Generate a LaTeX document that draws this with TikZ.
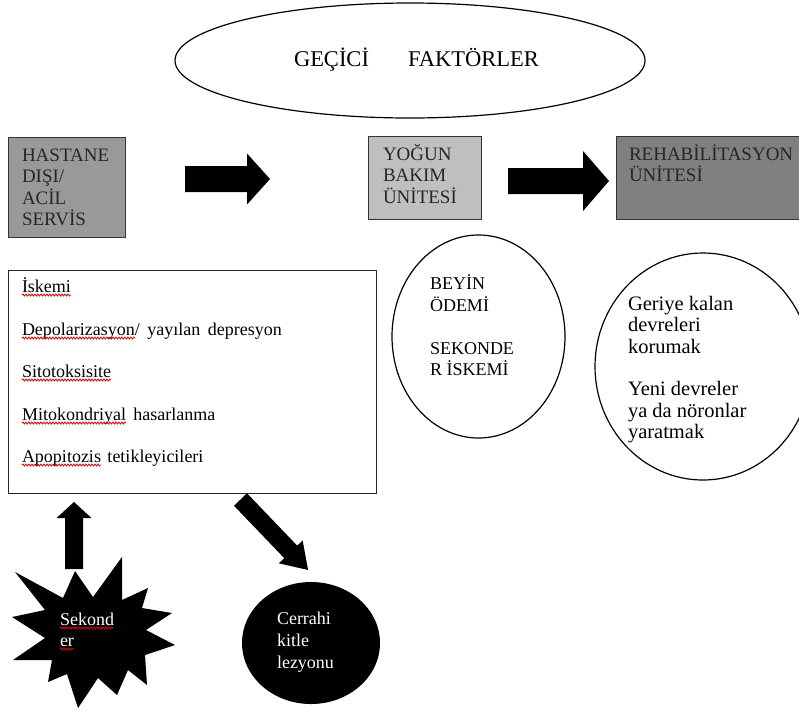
\documentclass[tikz,border=0pt]{standalone}
\usepackage{fontspec}
\setmainfont{Liberation Serif}
\usetikzlibrary{shapes.geometric,decorations.pathmorphing}

\definecolor{hospgray}{gray}{0.60}
\definecolor{icugray}{gray}{0.75}
\definecolor{rehabgray}{gray}{0.50}

% Block arrow: #1 tail coordinate, #2 angle, #3 length, #4 shaft half-width,
% #5 head half-width, #6 head length
\newcommand\blockarrow[6]{%
  \fill[shift={(#1)},rotate=#2] (0,-#4) -- ({#3-#6},-#4) -- ({#3-#6},-#5) -- (#3,0)
    -- ({#3-#6},#5) -- ({#3-#6},#4) -- (0,#4) -- cycle;}

\begin{document}
\begin{tikzpicture}[x=1pt,y=-1pt,
  lbl/.style={anchor=base west, inner sep=0pt, outer sep=0pt, font=\fontsize{18}{21}\selectfont},
  boxlbl/.style={lbl, text=black!85, font=\fontsize{19}{22}\selectfont},
  circlbl/.style={lbl, font=\fontsize{20.5}{24}\selectfont},
  biglbl/.style={lbl, font=\fontsize{22.5}{26}\selectfont},
  wlbl/.style={lbl, text=white},
  stage/.style={rectangle, draw=black!80, line width=1.4pt, anchor=north west, inner sep=0pt},
  oval/.style={ellipse, draw=black, line width=1.2pt, inner sep=0pt},
  squig/.style={draw=red!85!black, line width=0.8pt, decorate,
    decoration={snake, amplitude=1pt, segment length=3pt}}
]
\useasboundingbox (0,0) rectangle (799,713);

% title oval
\node[oval, minimum width=470pt, minimum height=115pt] (gecici) at (410,60.5) {};
\node[biglbl] (g1) at (294,66) {GEÇİCİ};
\node[biglbl] (g2) at (408,66) {FAKTÖRLER};

% care stages
\node[stage, fill=hospgray, minimum width=117pt, minimum height=100pt] (hastane) at (8,137) {};
\node[boxlbl] (h1) at (22,161) {HASTANE};
\node[boxlbl] (h2) at (22,182.5) {DIŞI/};
\node[boxlbl] (h3) at (22,204) {ACİL};
\node[boxlbl] (h4) at (22,225.5) {SERVİS};

\node[stage, fill=icugray, minimum width=113pt, minimum height=83pt] (yogun) at (368,136) {};
\node[boxlbl] (y1) at (383,160) {YOĞUN};
\node[boxlbl] (y2) at (383,181.5) {BAKIM};
\node[boxlbl] (y3) at (383,203) {ÜNİTESİ};

\node[stage, fill=rehabgray, minimum width=200pt, minimum height=83pt] (rehab) at (616,136) {};
\node[boxlbl] (r1) at (629,160) {REHABİLİTASYON};
\node[boxlbl] (r2) at (629,181.5) {ÜNİTESİ};

\coordinate (a1) at (185,179);
\coordinate (a2) at (508,181);
\blockarrow{a1}{0}{85}{13}{25.5}{23}
\blockarrow{a2}{0}{101}{13}{30}{26}

% injury mechanisms
\node[stage, draw=black!85, minimum width=368pt, minimum height=223pt] (liste) at (8,270) {};
\node[lbl] (m1) at (22,292) {İskemi};
\node[lbl] (m2) at (22,335) {Depolarizasyon};
\node[lbl] (m2b) at (m2.base east) {/ \hspace{3pt}yayılan \hspace{3pt}depresyon};
\node[lbl] (m3) at (22,377) {Sitotoksisite};
\node[lbl] (m4) at (22,420) {Mitokondriyal};
\node[lbl] (m4b) at (m4.base east) {\hspace{3pt} hasarlanma};
\node[lbl] (m5) at (22,462) {Apopitozis};
\node[lbl] (m5b) at (m5.base east) {\hspace{2pt} tetikleyicileri};
\foreach \w in {m1,m2,m3,m4,m5}
  \draw[squig] ([yshift=-3pt]\w.base west) -- ([yshift=-3pt]\w.base east);

% ICU circle
\node[oval, minimum width=173pt, minimum height=203pt] (beyin) at (478.5,336.5) {};
\node[lbl] (b1) at (430,289) {BEYİN};
\node[lbl] (b2) at (430,311) {ÖDEMİ};
\node[lbl] (b3) at (430,354) {SEKONDE};
\node[lbl] (b4) at (430,375) {R İSKEMİ};

% rehabilitation circle
\node[oval, minimum width=216pt, minimum height=227pt] (devre) at (703,366.5) {};
\node[circlbl] (d1) at (628,310) {Geriye kalan};
\node[circlbl] (d2) at (628,331.5) {devreleri};
\node[circlbl] (d3) at (628,353) {korumak};
\node[circlbl] (d4) at (628,395.5) {Yeni devreler};
\node[circlbl] (d5) at (628,417) {ya da nöronlar};
\node[circlbl] (d6) at (628,438.5) {yaratmak};

% secondary insult burst
\fill (15,572) -- (63,598) -- (75,571) -- (93,597) -- (122,557) -- (122,600)
  -- (148,588) -- (142,608) -- (172,613) -- (146,630) -- (175,645) -- (145,655)
  -- (147,685) -- (128,670) -- (117,695) -- (98,678) -- (78,708) -- (67,674)
  -- (48,682) -- (52,660) -- (13,660) -- (45,638) -- (12,617) -- (45,610) -- cycle;
\node[wlbl] (s1) at (60,625) {Sekond};
\node[wlbl] (s2) at (60,646) {er};
\foreach \w in {s1,s2}
  \draw[squig] ([yshift=-3pt]\w.base west) -- ([yshift=-3pt]\w.base east);

\coordinate (a3) at (74,569);
\blockarrow{a3}{90}{67}{9}{17.5}{16}

% surgical mass lesion
\node[ellipse, fill=black, inner sep=0pt, minimum width=138pt, minimum height=122pt] (kitle) at (311,643) {};
\node[wlbl] (k1) at (277,624) {Cerrahi};
\node[wlbl] (k2) at (277,646) {kitle};
\node[wlbl] (k3) at (277,668) {lezyonu};

\coordinate (a4) at (240.5,499.5);
\blockarrow{a4}{-46.2}{97.6}{9}{16.5}{25}
\end{tikzpicture}
\end{document}
